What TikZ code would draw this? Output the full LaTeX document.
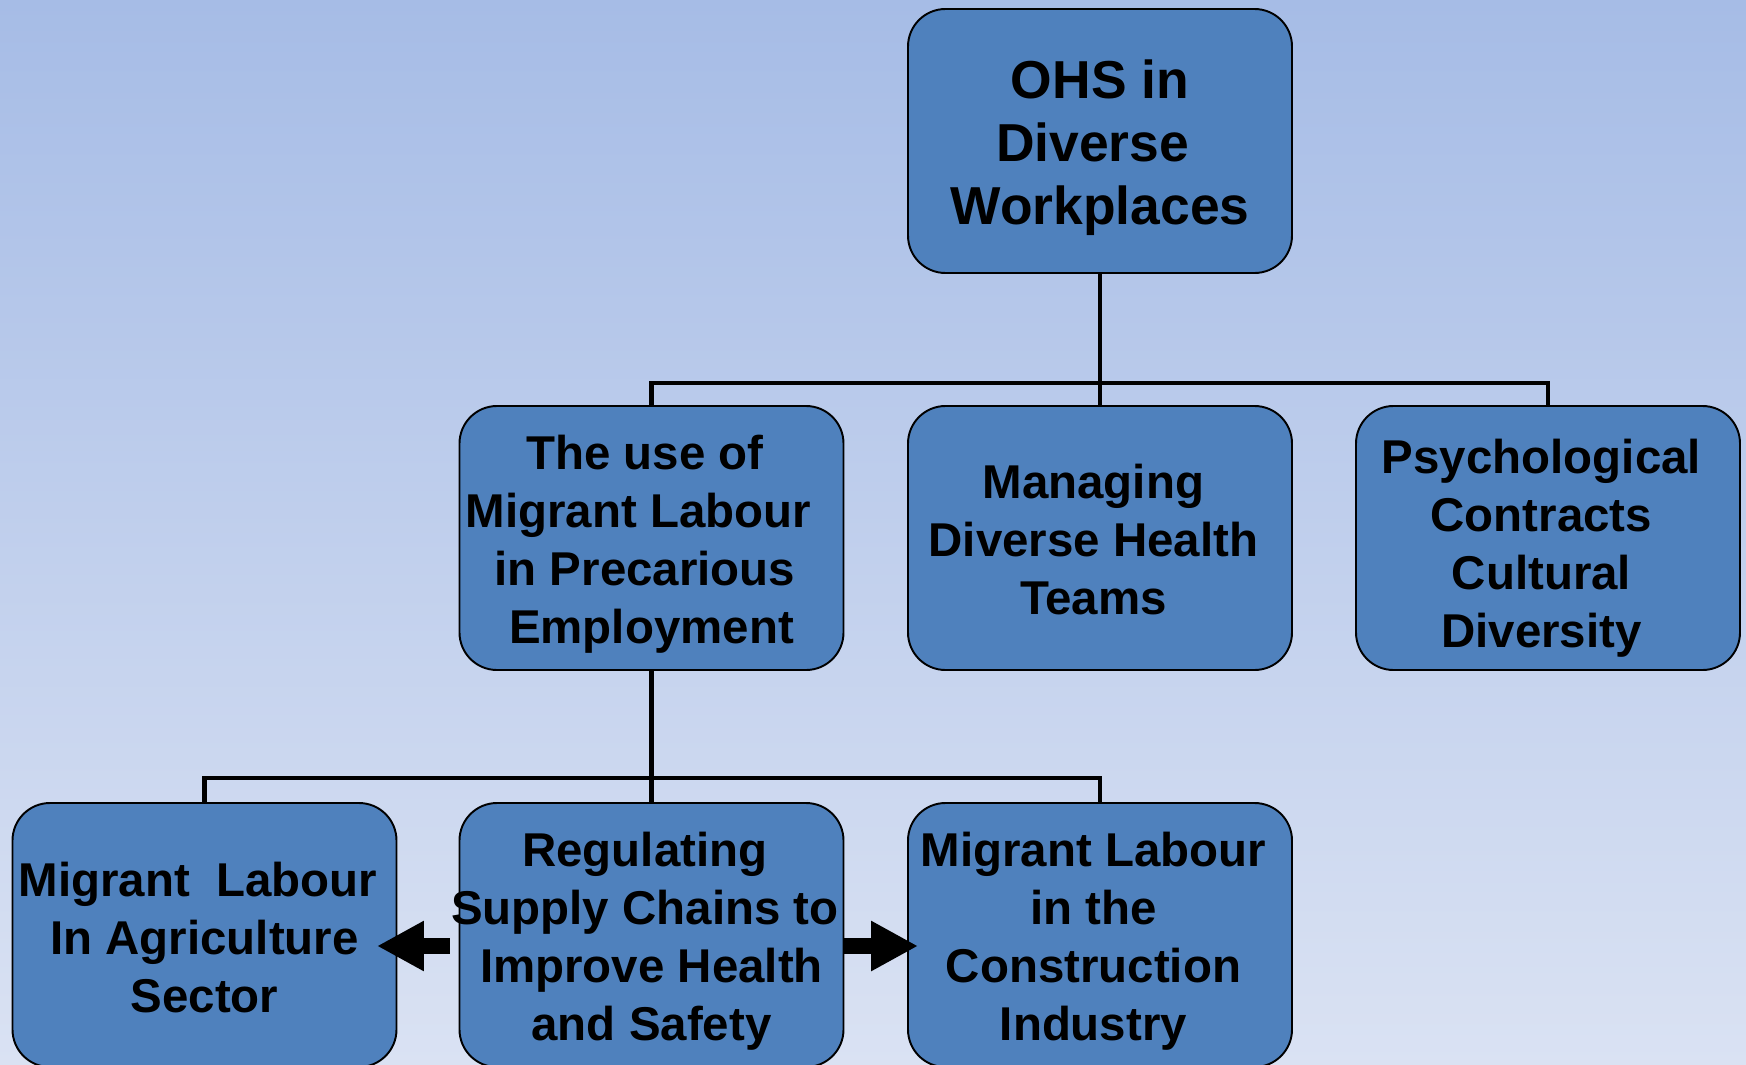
\documentclass[tikz,border=0pt]{standalone}
\usepackage{fontspec}
\setmainfont{Liberation Sans}
\usetikzlibrary{shapes,arrows.meta,positioning}
\definecolor{boxblue}{RGB}{79,129,189}
\definecolor{bgtop}{RGB}{166,188,230}
\definecolor{bgbot}{RGB}{218,226,243}
% trailing space and a strut that pushes the lines down
\newcommand\trail{\kern.278em}
\newcommand\lift[1]{\raisebox{#1}{\vphantom{Ol}}}
\tikzset{
  topic/.style={draw=black, line width=1.1pt, fill=boxblue, rounded corners=0.75cm,
    minimum width=7.68cm, minimum height=5.28cm, inner sep=0pt, align=center,
    font=\fontsize{27}{33}\selectfont\bfseries},
  tree/.style={line width=2.6pt},
  fat/.style={line width=0.32cm, -{Triangle[length=0.94cm,width=0.94cm]}}
}

\begin{document}
\begin{tikzpicture}
  \useasboundingbox (0,0) rectangle (34.92,-21.3);
  \shade[top color=bgtop, bottom color=bgbot] (0,0) rectangle (34.92,-21.3);
  %top
  \node[topic, font=\fontsize{30.4}{36}\selectfont\bfseries] (ohs) at (22,-2.82)
    {\lift{7.6pt}OHS in\\Diverse\trail\\Workplaces};
  %middle row
  \node[topic] (mig) at (13.03,-10.76)
    {\lift{7pt}The use of\trail\\Migrant Labour\trail\trail\\in Precarious\trail\\Employment};
  \node[topic] (mng) at (22,-10.76)
    {\lift{2pt}Managing\trail\\Diverse Health\trail\\Teams\trail};
  \node[topic] (psy) at (30.96,-10.76)
    {\lift{12pt}Psychological\trail\\Contracts\trail\\Cultural\trail\\Diversity\trail};
  %bottom row
  \node[topic] (agr) at (4.09,-18.7)
    {\lift{2.5pt}Migrant~~Labour\trail\\In Agriculture\\Sector};
  \node[topic] (reg) at (13.03,-18.7)
    {\lift{7pt}Regulating\trail\\\makebox[7.4cm]{Supply Chains to\trail}\\Improve Health\\and Safety};
  \node[topic] (con) at (22,-18.7)
    {\lift{7pt}Migrant Labour\trail\\in the\trail\\Construction\trail\\Industry\trail};
  %tree
  \draw[tree] (ohs.south) -- (mng.north);
  \draw[tree] (ohs.south) -- ++(0,-2.18) -| (mig.north);
  \draw[tree] (ohs.south) -- ++(0,-2.18) -| (psy.north);
  \draw[tree] (mig.south) -- (reg.north);
  \draw[tree] (mig.south) -- ++(0,-2.14) -| (agr.north);
  \draw[tree] (mig.south) -- ++(0,-2.14) -| (con.north);
  %arrows
  \draw[fat] ([xshift=-0.18cm,yshift=-0.22cm]reg.west) -- ([xshift=-0.41cm,yshift=-0.22cm]agr.east);
  \draw[fat] ([yshift=-0.22cm]reg.east) -- ([xshift=0.22cm,yshift=-0.22cm]con.west);
\end{tikzpicture}
\end{document}
